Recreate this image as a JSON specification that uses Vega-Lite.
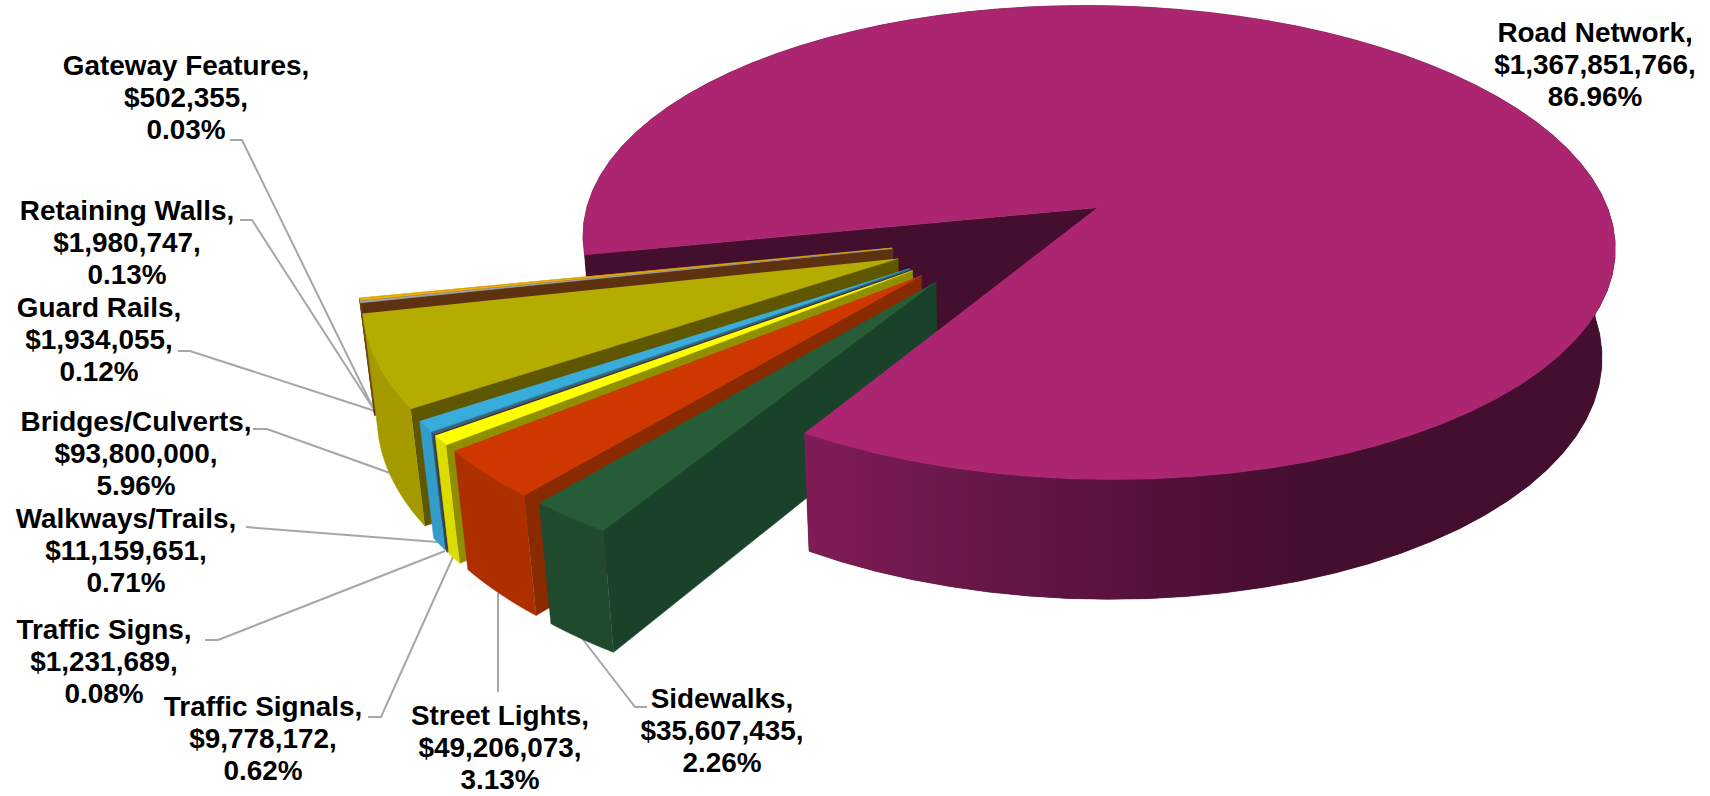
{
  "$schema": "https://vega.github.io/schema/vega-lite/v6.json",
  "width": 1710,
  "height": 796,
  "padding": 0,
  "autosize": "none",
  "background": "white",
  "view": {"stroke": null},
  "params": [
    {"name": "cx", "value": 1005},
    {"name": "cy", "value": 237.4},
    {"name": "rx", "value": 520},
    {"name": "ry", "value": 240.7},
    {"name": "depth", "value": 112},
    {"name": "tilt", "value": 0.15},
    {"name": "sink", "value": 0.022},
    {"name": "explode", "value": 0.22},
    {"name": "startAngle", "value": 168.6}
  ],
  "datasets": {
    "slices": [
      {"category": "Gateway Features", "amount": 502355, "share": 0.03},
      {"category": "Retaining Walls", "amount": 1980747, "share": 0.13},
      {"category": "Guard Rails", "amount": 1934055, "share": 0.12},
      {"category": "Bridges/Culverts", "amount": 93800000, "share": 5.96},
      {"category": "Walkways/Trails", "amount": 11159651, "share": 0.71},
      {"category": "Traffic Signs", "amount": 1231689, "share": 0.08},
      {"category": "Traffic Signals", "amount": 9778172, "share": 0.62},
      {"category": "Street Lights", "amount": 49206073, "share": 3.13},
      {"category": "Sidewalks", "amount": 35607435, "share": 2.26},
      {"category": "Road Network", "amount": 1367851766, "share": 86.96}
    ],
    "callouts": [
      {"category": "Road Network", "lx": 1595, "ly": 42},
      {"category": "Gateway Features", "lx": 186, "ly": 75},
      {"category": "Retaining Walls", "lx": 127, "ly": 220},
      {"category": "Guard Rails", "lx": 99, "ly": 317},
      {"category": "Bridges/Culverts", "lx": 136, "ly": 431},
      {"category": "Walkways/Trails", "lx": 126, "ly": 528},
      {"category": "Traffic Signs", "lx": 104, "ly": 639},
      {"category": "Traffic Signals", "lx": 263, "ly": 716},
      {"category": "Street Lights", "lx": 500, "ly": 725},
      {"category": "Sidewalks", "lx": 722, "ly": 708}
    ],
    "leaders": [
      {"category": "Gateway Features", "n": 0, "lx": 230, "ly": 140},
      {"category": "Gateway Features", "n": 1, "lx": 242, "ly": 140},
      {"category": "Gateway Features", "n": 2, "lx": 373, "ly": 408},
      {"category": "Retaining Walls", "n": 0, "lx": 240, "ly": 220},
      {"category": "Retaining Walls", "n": 1, "lx": 252, "ly": 220},
      {"category": "Retaining Walls", "n": 2, "lx": 373, "ly": 408},
      {"category": "Guard Rails", "n": 0, "lx": 178, "ly": 351},
      {"category": "Guard Rails", "n": 1, "lx": 190, "ly": 351},
      {"category": "Guard Rails", "n": 2, "lx": 375, "ly": 411},
      {"category": "Bridges/Culverts", "n": 0, "lx": 253, "ly": 429},
      {"category": "Bridges/Culverts", "n": 1, "lx": 267, "ly": 429},
      {"category": "Bridges/Culverts", "n": 2, "lx": 390, "ly": 473},
      {"category": "Walkways/Trails", "n": 0, "lx": 246, "ly": 527},
      {"category": "Walkways/Trails", "n": 1, "lx": 437, "ly": 542},
      {"category": "Traffic Signs", "n": 0, "lx": 205, "ly": 640},
      {"category": "Traffic Signs", "n": 1, "lx": 218, "ly": 640},
      {"category": "Traffic Signs", "n": 2, "lx": 445, "ly": 551},
      {"category": "Traffic Signals", "n": 0, "lx": 368, "ly": 717},
      {"category": "Traffic Signals", "n": 1, "lx": 381, "ly": 717},
      {"category": "Traffic Signals", "n": 2, "lx": 453, "ly": 557},
      {"category": "Street Lights", "n": 0, "lx": 498, "ly": 692},
      {"category": "Street Lights", "n": 1, "lx": 498, "ly": 593},
      {"category": "Sidewalks", "n": 0, "lx": 647, "ly": 707},
      {"category": "Sidewalks", "n": 1, "lx": 635, "ly": 707},
      {"category": "Sidewalks", "n": 2, "lx": 581, "ly": 637}
    ]
  },
  "layer": [
    {
      "data": {"name": "leaders"},
      "mark": {"type": "line", "color": "#a6a6a6", "strokeWidth": 2},
      "encoding": {
        "x": {"field": "lx", "type": "quantitative", "axis": null, "scale": {"domain": [0, 1710], "nice": false, "zero": false}},
        "y": {"field": "ly", "type": "quantitative", "axis": null, "scale": {"domain": [796, 0], "nice": false, "zero": false}},
        "detail": {"field": "category"},
        "order": {"field": "n"}
      }
    },
    {
      "data": {"name": "slices"},
      "transform": [
        {"window": [{"op": "sum", "field": "amount", "as": "cum"}], "frame": [null, 0], "ignorePeers": true},
        {"joinaggregate": [{"op": "sum", "field": "amount", "as": "total"}]},
        {"calculate": "startAngle - 360 * (datum.cum - datum.amount) / datum.total", "as": "phi1"},
        {"calculate": "startAngle - 360 * datum.cum / datum.total", "as": "phi0"},
        {"calculate": "explode * cos((datum.phi0 + datum.phi1) / 2 * PI / 180)", "as": "du"},
        {"calculate": "explode * sin((datum.phi0 + datum.phi1) / 2 * PI / 180)", "as": "dv"},
        {"calculate": "['cut', 'rim', 'top']", "as": "face"},
        {"flatten": ["face"]},
        {"calculate": "datum.face === 'cut' ? [0, 1, 2, 3] : datum.face === 'top' ? sequence(0, 82) : sequence(0, 162)", "as": "s"},
        {"flatten": ["s"]},
        {"calculate": "datum.face === 'cut' ? (datum.s === 1 || datum.s === 2 ? 1 : 0) : datum.face === 'top' ? (datum.s === 0 ? 0 : 1) : 1", "as": "r"},
        {"calculate": "datum.face === 'cut' ? (datum.s >= 2 ? 1 : 0) : datum.face === 'rim' ? (datum.s > 80 ? 1 : 0) : 0", "as": "z"},
        {"calculate": "datum.face === 'cut' ? 0 : datum.face === 'top' ? max(datum.s - 1, 0) / 80 : (datum.s <= 80 ? datum.s : 161 - datum.s) / 80", "as": "t"},
        {"calculate": "datum.phi0 + (datum.phi1 - datum.phi0) * datum.t", "as": "ang"},
        {"calculate": "datum.du + datum.r * cos(datum.ang * PI / 180)", "as": "pu"},
        {"calculate": "datum.dv + datum.r * sin(datum.ang * PI / 180)", "as": "pv"},
        {"calculate": "1 - tilt * datum.pv + sink * datum.z", "as": "w"},
        {"calculate": "cx + rx * datum.pu / datum.w", "as": "px"},
        {"calculate": "cy + (ry * datum.pv + depth * datum.z) / datum.w", "as": "py"},
        {"calculate": "datum.category + '|' + datum.face", "as": "tone"}
      ],
      "encoding": {
        "x": {"field": "px", "type": "quantitative", "axis": null, "scale": {"domain": [0, 1710], "nice": false, "zero": false}},
        "y": {"field": "py", "type": "quantitative", "axis": null, "scale": {"domain": [796, 0], "nice": false, "zero": false}},
        "order": {"field": "s"},
        "fill": {
          "field": "tone", "type": "nominal", "legend": null,
          "scale": {
            "domain": [
              "Road Network|cut", "Road Network|rim", "Road Network|top",
              "Gateway Features|cut", "Gateway Features|rim", "Gateway Features|top",
              "Retaining Walls|cut", "Retaining Walls|rim", "Retaining Walls|top",
              "Guard Rails|cut", "Guard Rails|rim", "Guard Rails|top",
              "Bridges/Culverts|cut", "Bridges/Culverts|rim", "Bridges/Culverts|top",
              "Walkways/Trails|cut", "Walkways/Trails|rim", "Walkways/Trails|top",
              "Traffic Signs|cut", "Traffic Signs|rim", "Traffic Signs|top",
              "Traffic Signals|cut", "Traffic Signals|rim", "Traffic Signals|top",
              "Street Lights|cut", "Street Lights|rim", "Street Lights|top",
              "Sidewalks|cut", "Sidewalks|rim", "Sidewalks|top"
            ],
            "range": [
              "#440e2f", "#440e2f", "#ab2570",
              "#8a6400", "#b58a00", "#f2b000",
              "#6e6e6e", "#6b3a12", "#f2b000",
              "#5e3210", "#6b3a12", "#a3a3a3",
              "#5e5700", "#a49a00", "#b5ac00",
              "#2a6f8e", "#349cc8", "#38acdb",
              "#2f3540", "#3d3d4a", "#555a63",
              "#8f8f00", "#dcdc00", "#ffff00",
              "#8a2a00", "#ad2f00", "#cf3700",
              "#1a412a", "#1f4a2d", "#265c37"
            ]
          }
        },
        "stroke": {
          "field": "tone", "type": "nominal", "legend": null,
          "scale": {
            "domain": [
              "Road Network|cut", "Road Network|rim", "Road Network|top",
              "Gateway Features|cut", "Gateway Features|rim", "Gateway Features|top",
              "Retaining Walls|cut", "Retaining Walls|rim", "Retaining Walls|top",
              "Guard Rails|cut", "Guard Rails|rim", "Guard Rails|top",
              "Bridges/Culverts|cut", "Bridges/Culverts|rim", "Bridges/Culverts|top",
              "Walkways/Trails|cut", "Walkways/Trails|rim", "Walkways/Trails|top",
              "Traffic Signs|cut", "Traffic Signs|rim", "Traffic Signs|top",
              "Traffic Signals|cut", "Traffic Signals|rim", "Traffic Signals|top",
              "Street Lights|cut", "Street Lights|rim", "Street Lights|top",
              "Sidewalks|cut", "Sidewalks|rim", "Sidewalks|top"
            ],
            "range": [
              "#440e2f", "#440e2f", "#ab2570",
              "#8a6400", "#b58a00", "#f2b000",
              "#6e6e6e", "#6b3a12", "#f2b000",
              "#5e3210", "#6b3a12", "#a3a3a3",
              "#5e5700", "#a49a00", "#b5ac00",
              "#2a6f8e", "#349cc8", "#38acdb",
              "#2f3540", "#3d3d4a", "#555a63",
              "#8f8f00", "#dcdc00", "#ffff00",
              "#8a2a00", "#ad2f00", "#cf3700",
              "#1a412a", "#1f4a2d", "#265c37"
            ]
          }
        }
      },
      "layer": [
        {
          "transform": [{"filter": "datum.category === 'Road Network' && datum.face !== 'top'"}],
          "mark": {"type": "line", "strokeWidth": 0.5}
        },
        {
          "transform": [{"filter": "datum.category !== 'Road Network' && datum.face === 'cut'"}],
          "mark": {"type": "line", "strokeWidth": 0.5}
        },
        {
          "transform": [{"filter": "datum.category !== 'Road Network' && datum.face === 'rim'"}],
          "mark": {"type": "line", "strokeWidth": 0.5}
        },
        {
          "transform": [{"filter": "datum.category !== 'Road Network' && datum.face === 'top'"}],
          "mark": {"type": "line", "strokeWidth": 0.5}
        },
        {
          "transform": [{"filter": "datum.category === 'Road Network' && datum.face === 'rim' && datum.ang >= 0"}],
          "mark": {"type": "line", "strokeWidth": 0},
          "encoding": {
            "fill": {"value": {
              "gradient": "linear", "x1": 0, "y1": 0, "x2": 1, "y2": 0,
              "stops": [
                {"offset": 0, "color": "#801c56"},
                {"offset": 0.24, "color": "#651647"},
                {"offset": 0.49, "color": "#4f1037"},
                {"offset": 0.62, "color": "#440e2f"},
                {"offset": 1, "color": "#440e2f"}
              ]
            }},
            "stroke": {"value": "transparent"}
          }
        },
        {
          "transform": [{"filter": "datum.category === 'Road Network' && datum.face === 'top'"}],
          "mark": {"type": "line", "strokeWidth": 0.5}
        }
      ]
    },
    {
      "data": {"name": "callouts"},
      "transform": [
        {"lookup": "category", "from": {"data": {"name": "slices"}, "key": "category", "fields": ["amount", "share"]}},
        {"calculate": "datum.category + ',\\n' + format(datum.amount, '$,.0f') + ',\\n' + format(datum.share, '.2f') + '%'", "as": "caption"}
      ],
      "mark": {"type": "text", "font": "Liberation Sans", "fontWeight": "bold", "fontSize": 27.9, "lineHeight": 32, "lineBreak": "\n", "align": "center", "baseline": "alphabetic", "color": "#000000"},
      "encoding": {
        "x": {"field": "lx", "type": "quantitative", "axis": null, "scale": {"domain": [0, 1710], "nice": false, "zero": false}},
        "y": {"field": "ly", "type": "quantitative", "axis": null, "scale": {"domain": [796, 0], "nice": false, "zero": false}},
        "text": {"field": "caption"}
      }
    }
  ]
}
